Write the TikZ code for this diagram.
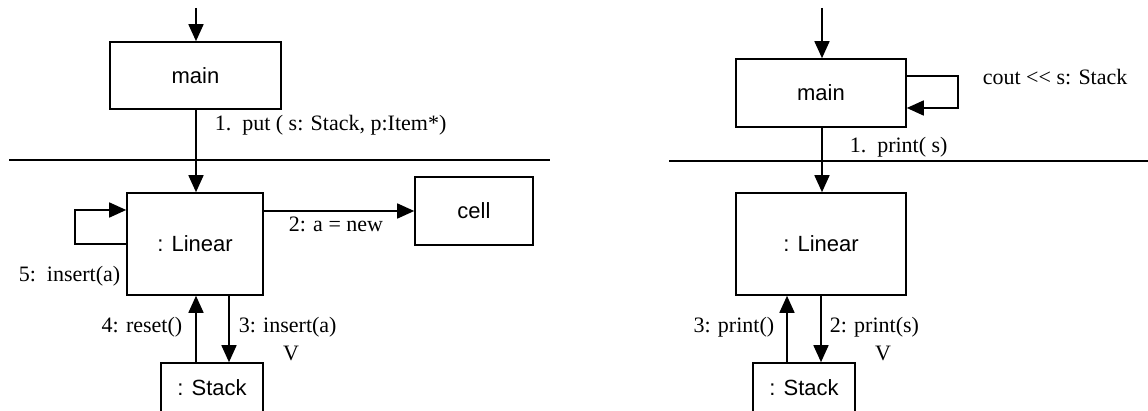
\documentclass[tikz,border=0pt]{standalone}
\usepackage{fontspec}
\setmainfont{Liberation Serif}
\setsansfont{Liberation Sans}
\usetikzlibrary{arrows.meta}

\begin{document}
\begin{tikzpicture}[x=0.5pt,y=-0.5pt,line width=0.8pt,
  obj/.style={draw, rectangle, inner sep=0pt, font=\sffamily\fontsize{11}{13}\selectfont},
  lbl/.style={inner sep=0pt, font=\fontsize{11}{13}\selectfont},
  >={Triangle[length=8.5pt,width=7.5pt]}]
\useasboundingbox (0,0) rectangle (1148,411);
\clip (0,0) rectangle (1148,411);
\node[obj, minimum width=85.5pt, minimum height=33.5pt] (mainL) at (195.5,75.5){main};
\node[obj, minimum width=68pt, minimum height=51pt] (linL) at (195,244){: Linear};
\node[obj, minimum width=59pt, minimum height=34pt] (cellL) at (474,211){cell};
\node[obj, minimum width=51pt, minimum height=25pt] (stackL) at (212,388){: Stack};
\node[obj, minimum width=85pt, minimum height=34pt] (mainR) at (821,93){main};
\node[obj, minimum width=85pt, minimum height=51pt] (linR) at (821,244){: Linear};
\node[obj, minimum width=51pt, minimum height=25pt] (stackR) at (804,388){: Stack};
\coordinate (inL) at (196,8);
\coordinate (inR) at (822,8);
\coordinate (sepL0) at (9,160);
\coordinate (sepL1) at (550,160);
\coordinate (sepR0) at (669,161);
\coordinate (sepR1) at (1148,161);
\coordinate (dnL) at ([xshift=8.5pt]stackL.north);
\coordinate (upL) at ([xshift=-8pt]stackL.north);
\coordinate (dnR) at ([xshift=8.5pt]stackR.north);
\coordinate (upR) at ([xshift=-8.5pt]stackR.north);
\draw[](sepL0) -- (sepL1);
\draw[](sepR0) -- (sepR1);
\draw[->](inL) -- (inL |- mainL.north);
\draw[->](inL |- mainL.south) -- (inL |- linL.north);
\draw[->](linL.east |- cellL.west) -- (cellL.west);
\draw[->](linL.west) -- ++(-51,0) -- ++(0,-34) -- ++(51,0);
\draw[->](dnL |- linL.south) -- (dnL);
\draw[->](upL) -- (upL |- linL.south);
\draw[->](inR) -- (inR |- mainR.north);
\draw[->](inR |- mainR.south) -- (inR |- linR.north);
\draw[->]([yshift=8.5pt]mainR.east) -- ++(51,0) -- ++(0,32) -- ++(-51,0);
\draw[->](dnR |- linR.south) -- (dnR);
\draw[->](upR) -- (upR |- linR.south);
\node[lbl, anchor=west] (m1L) at (214,125){1.\ \ put ( s: Stack, p:Item*)};
\node[lbl, anchor=west] (m2L) at (288,224){2: a = new};
\node[lbl, anchor=east] (m5L) at (121,276){5:\ \ insert(a)};
\node[lbl, anchor=east] (m4L) at (183,327){4: reset()};
\node[lbl, anchor=west] (m3L) at (238,327){3: insert(a)};
\node[lbl] (vL) at (291,353){V};
\node[lbl, anchor=west] (coutR) at (982,77){cout <\kern0pt< s: Stack};
\node[lbl, anchor=west] (m1R) at (849,147){1.\ \ print( s)};
\node[lbl, anchor=east] (m3R) at (775,327){3: print()};
\node[lbl, anchor=west] (m2R) at (829,327){2: print(s)};
\node[lbl] (vR) at (883,353){V};

\end{tikzpicture}
\end{document}
